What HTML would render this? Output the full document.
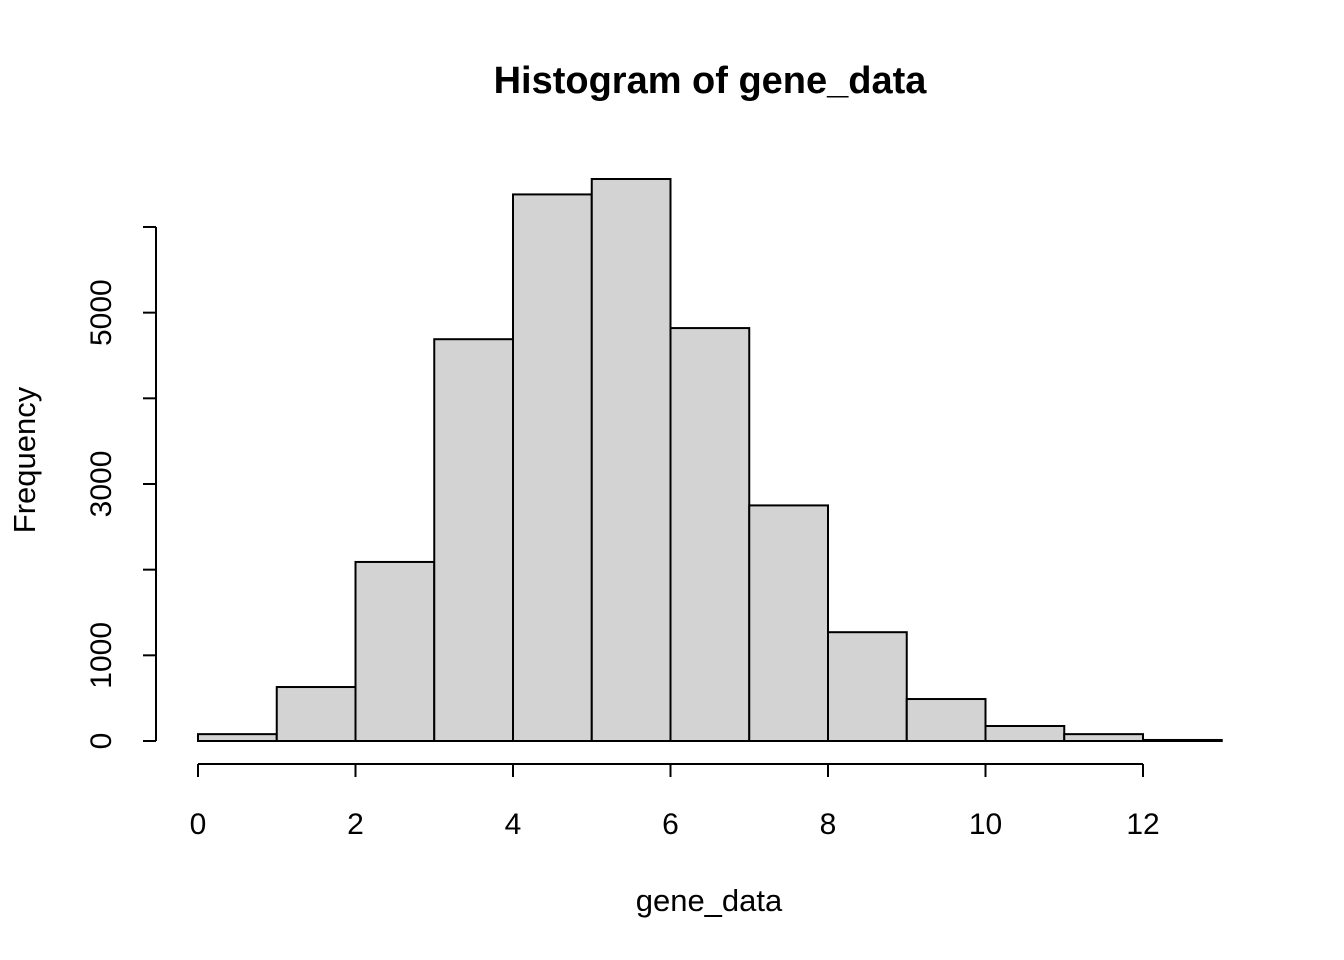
<!DOCTYPE html>
<html><head><meta charset="utf-8"><style>
body{margin:0;background:#fff;}
svg{display:block;font-family:"Liberation Sans",Arial,sans-serif;}
</style></head><body>
<svg id="chart" width="1344" height="960">
<text x="710" y="93" text-anchor="middle" font-size="38" font-weight="bold">Histogram of gene_data</text>
<text x="709" y="911" text-anchor="middle" font-size="31">gene_data</text>
<text transform="translate(35,460) rotate(-90)" text-anchor="middle" font-size="31">Frequency</text>
<g id="bars"></g><g id="xaxis"></g><g id="yaxis"></g>
</svg>
<script>
const binStarts=[0,1,2,3,4,5,6,7,8,9,10,11,12];
const counts=[80,630,2090,4690,6380,6560,4820,2750,1270,490,175,80,12];
const xTicks=[0,2,4,6,8,10,12];
const yTicks=[0,1000,2000,3000,4000,5000,6000];
const yLabels=["0","1000","","3000","","5000",""];
const binWidth=1;
const NS="http://www.w3.org/2000/svg";
const xs=v=>198+v*78.75;
const ys=v=>741-v*0.08567;
function mk(tag,attrs,parent){const e=document.createElementNS(NS,tag);for(const k in attrs)e.setAttribute(k,attrs[k]);parent.appendChild(e);return e;}
const bars=document.getElementById('bars');
binStarts.forEach((b,i)=>{
 const r=mk('rect',{x:xs(b),y:ys(counts[i]),width:xs(b+binWidth)-xs(b),height:ys(0)-ys(counts[i]),fill:'#d3d3d3',stroke:'#000','stroke-width':2},bars);
 
 
});
const xa=document.getElementById('xaxis');
const xl=mk('line',{x1:xs(xTicks[0]),x2:xs(xTicks[xTicks.length-1]),y1:764,y2:764,stroke:'#000','stroke-width':2},xa);


xTicks.forEach(t=>{
 mk('line',{x1:xs(t),x2:xs(t),y1:764,y2:777,stroke:'#000','stroke-width':2},xa);
 const tx=mk('text',{x:xs(t),y:834,'text-anchor':'middle','font-size':30},xa);
 tx.textContent=t;
 
 
});
const ya=document.getElementById('yaxis');
const yl=mk('line',{x1:156,x2:156,y1:ys(yTicks[0]),y2:ys(yTicks[yTicks.length-1]),stroke:'#000','stroke-width':2},ya);


yTicks.forEach((t,i)=>{
 mk('line',{x1:143,x2:156,y1:ys(t),y2:ys(t),stroke:'#000','stroke-width':2},ya);
 if(yLabels[i]){
  const tx=mk('text',{transform:`translate(111,${ys(t)}) rotate(-90)`,'text-anchor':'middle','font-size':30},ya);
  tx.textContent=yLabels[i];
  
  
 }
});
</script>
</body></html>
